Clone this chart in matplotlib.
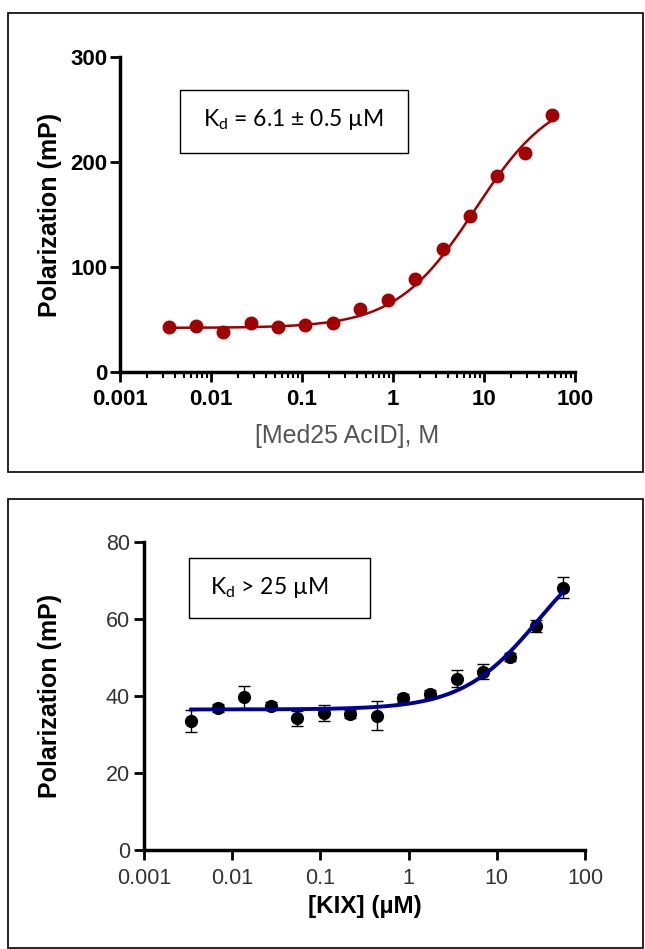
import numpy as np
import matplotlib.pyplot as plt
from matplotlib.patches import Rectangle
from matplotlib.ticker import LogLocator, FixedLocator, NullLocator

plt.rcParams['font.family'] = ['Liberation Sans', 'DejaVu Sans']
plt.rcParams['mathtext.fontset'] = 'custom'
plt.rcParams['mathtext.rm'] = 'Lato'

# 2-fold dilution series (uM)
conc = [0.00342, 0.00684, 0.0137, 0.0273, 0.0547, 0.109, 0.219, 0.4375,
        0.875, 1.75, 3.5, 7.0, 14.0, 28.0, 56.0]

# top panel: Med25 AcID
med25_mp = [42.5, 44, 38.3, 47, 42.5, 44.6, 46.5, 59.7, 68.5, 88.6,
            117, 148.6, 186.3, 209, 245]
med25_fit = dict(bottom=42, top=268, ec50=8.0)

# bottom panel: KIX
kix_mp = [33.5, 36.8, 39.8, 37.4, 34.2, 35.6, 35.3, 34.9, 39.4, 40.5,
          44.5, 46.3, 50.2, 58.1, 68.1]
kix_err = [2.8, 1.0, 2.9, 1.0, 2.0, 2.0, 1.0, 3.7, 1.0, 1.0,
           2.2, 2.0, 1.0, 1.6, 2.7]
kix_fit = dict(bottom=36.5, top=83.3, ec50=30.0)


def binding(x, bottom, top, ec50):
    return bottom + (top - bottom) * x / (ec50 + x)


fig = plt.figure(figsize=(6.45, 9.49), dpi=100)

# panel frames
fig.add_artist(Rectangle((8 / 645, 1 - 472 / 949), 635 / 645, 459 / 949,
                         transform=fig.transFigure, fill=False, lw=1.2, ec='black'))
fig.add_artist(Rectangle((8 / 645, 1 - 948 / 949), 635 / 645, 449 / 949,
                         transform=fig.transFigure, fill=False, lw=1.2, ec='black'))

xs = np.logspace(np.log10(conc[0]), np.log10(conc[-1]), 300)

# ---- top panel
ax1 = fig.add_axes([120 / 645, 1 - 372 / 949, 455 / 645, 315 / 949])
red = '#a00000'
ax1.plot(xs, binding(xs, **med25_fit), color=red, lw=1.8, zorder=2)
ax1.plot(conc, med25_mp, 'o', color=red, ms=9, zorder=3)
ax1.set_xscale('log')
ax1.set_xlim(0.001, 100)
ax1.set_ylim(0, 300)
ax1.set_yticks([0, 100, 200, 300])
ax1.xaxis.set_major_locator(FixedLocator([0.001, 0.01, 0.1, 1, 10, 100]))
ax1.xaxis.set_minor_locator(LogLocator(base=10, subs=np.arange(2, 10), numticks=20))
ax1.set_xticklabels(['0.001', '0.01', '0.1', '1', '10', '100'])
for lab in ax1.get_xticklabels() + ax1.get_yticklabels():
    lab.set_fontweight('bold')
    lab.set_fontsize(16)
ax1.tick_params(which='major', length=7, width=2, pad=5)
ax1.tick_params(which='minor', length=4, width=1.5)
ax1.tick_params(axis='y', pad=2)
ax1.set_xlabel('[Med25 AcID], M', fontsize=18, color='#555555', labelpad=10)
ax1.set_ylabel('Polarization (mP)', fontsize=18, fontweight='bold', labelpad=6)
for s in ['top', 'right']:
    ax1.spines[s].set_visible(False)
for s in ['left', 'bottom']:
    ax1.spines[s].set_linewidth(2.5)

fig.add_artist(Rectangle((180 / 645, 1 - 153 / 949), 228 / 645, 63 / 949,
                         transform=fig.transFigure, fill=False, lw=1.0, ec='black'))
fig.text(293 / 645, 1 - 120 / 949, r'K$_\mathregular{d}$ = 6.1 ± 0.5 µM',
         family=['Lato', 'DejaVu Sans'], fontsize=16.5, ha='center', va='center')

# ---- bottom panel
ax2 = fig.add_axes([144 / 645, 1 - 850 / 949, 441 / 645, 308 / 949])
blue = '#000099'
ax2.errorbar(conc, kix_mp, yerr=kix_err, fmt='o', color='black', ms=8.5,
             ecolor='black', elinewidth=1.0, capsize=4, capthick=1.0, zorder=2)
ax2.plot(xs, binding(xs, **kix_fit), color=blue, lw=2.8, zorder=3)
ax2.set_xscale('log')
ax2.set_xlim(0.001, 100)
ax2.set_ylim(0, 80)
ax2.set_yticks([0, 20, 40, 60, 80])
ax2.xaxis.set_major_locator(FixedLocator([0.001, 0.01, 0.1, 1, 10, 100]))
ax2.xaxis.set_minor_locator(NullLocator())
ax2.set_xticklabels(['0.001', '0.01', '0.1', '1', '10', '100'])
for lab in ax2.get_xticklabels() + ax2.get_yticklabels():
    lab.set_fontsize(15.5)
    lab.set_color('#333333')
ax2.tick_params(which='major', length=7, width=2, pad=6)
ax2.tick_params(axis='y', pad=3)
ax2.set_xlabel('[KIX] (µM)', fontsize=17.5, fontweight='bold', labelpad=4)
ax2.set_ylabel('Polarization (mP)', fontsize=18, fontweight='bold', labelpad=32)
for s in ['top', 'right']:
    ax2.spines[s].set_visible(False)
for s in ['left', 'bottom']:
    ax2.spines[s].set_linewidth(2.5)

fig.add_artist(Rectangle((189 / 645, 1 - 618 / 949), 181 / 645, 60 / 949,
                         transform=fig.transFigure, fill=False, lw=1.0, ec='black'))
fig.text(210 / 645, 1 - 588 / 949, r'K$_\mathregular{d}$ > 25 µM',
         family=['Lato', 'DejaVu Sans'], fontsize=16.5, ha='left', va='center')

fig.savefig('out.png', dpi=100)
